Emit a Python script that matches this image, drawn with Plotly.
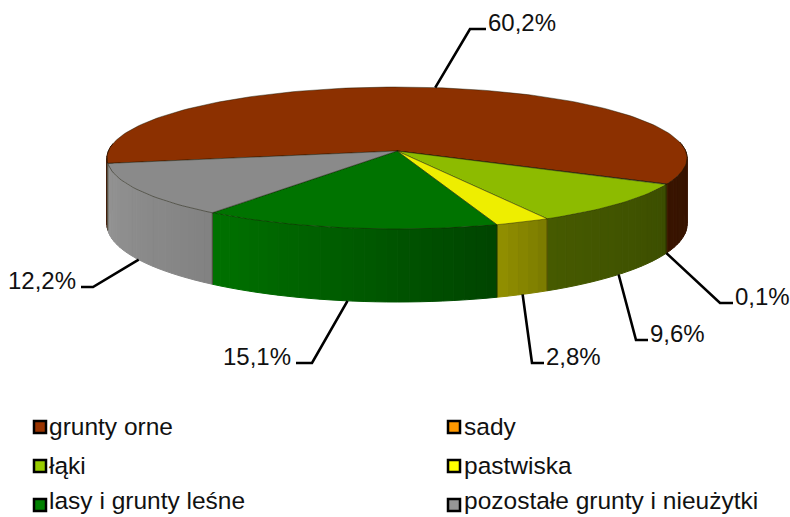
import math
import plotly.graph_objects as go

# ---- data ----
categories = ["grunty orne", "sady", "łąki", "pastwiska", "lasy i grunty leśne", "pozostałe grunty i nieużytki"]
shares = [60.2, 0.1, 9.6, 2.8, 15.1, 12.2]
value_labels = ["60,2%", "0,1%", "9,6%", "2,8%", "15,1%", "12,2%"]
legend_colors = ["#993300", "#FF9900", "#99CC00", "#FFFF00", "#008000", "#969696"]
top_colors = ["#8C3000", "#E89000", "#8DBB00", "#EEEE00", "#007300", "#8A8A8A"]
# wall shading, first value at the clockwise start of the slice, second at its end
wall_start = [(61, 21, 0), (110, 65, 0), (60, 78, 0), (122, 122, 0), (0, 68, 0), (130, 130, 130)]
wall_end = [(56, 20, 0), (120, 70, 0), (70, 90, 0), (146, 144, 0), (0, 114, 0), (148, 148, 148)]

# ---- geometry / layout ----
W, H = 790, 517
CX, CY = 397.0, 151.0
RX, RY, PERSP, DEPTH = 288.6, 70.3, 0.0986, 65.8
START = 260.0
FONT = "Liberation Sans"
VALUE_SIZE = 24
LEGEND_SIZE = 24.5
# elbow and text position of each leader line (x, y, end of the horizontal run)
leader_elbows = [(470, 29, 486), (720, 303, 733), (636, 340, 648), (532, 363, 544), (312, 363, 296), (93, 287, 81)]
leader_on_top = [True, False, False, False, False, False]
legend_cols = [40, 454]
legend_text_cols = [46.5, 462]
legend_rows = [427, 466, 505]
legend_text_rows = [426, 465, 500.5]


def project(theta, drop=0.0):
    t = math.radians(theta)
    u, v = math.sin(t), -math.cos(t)
    w = 1 - PERSP * v
    return CX + RX * u / w, CY + RY * v / w + drop * DEPTH / w


def arc(a, b, drop=0.0, step=1.5):
    n = max(1, int(abs(b - a) / step))
    return [project(a + (b - a) * i / n, drop) for i in range(n + 1)]


def mix(c1, c2, f):
    return "rgb(%d,%d,%d)" % tuple(round(p + (q - p) * f) for p, q in zip(c1, c2))


def poly(points, fill, line, width=1.0):
    return go.Scatter(
        x=[p[0] for p in points] + [points[0][0]],
        y=[p[1] for p in points] + [points[0][1]],
        mode="lines", fill="toself", fillcolor=fill,
        line=dict(color=line, width=width),
        hoverinfo="skip", showlegend=False,
    )


fig = go.Figure()

# slice angle ranges, clockwise from the start angle
total = sum(shares)
bounds = [START]
for s in shares:
    bounds.append(bounds[-1] + s / total * 360)

# side walls: narrow shaded bands, back to front
bands = []
for i in range(len(shares)):
    a, b = bounds[i], bounds[i + 1]
    n = max(1, int((b - a) / 2))
    for k in range(n):
        p, q = a + (b - a) * k / n, a + (b - a) * (k + 1) / n
        mid = math.radians((p + q) / 2)
        if -math.cos(mid) > -0.12:
            bands.append((i, k, p, q, mix(wall_start[i], wall_end[i], (k + 0.5) / n)))
for _, _, p, q, col in bands:
    fig.add_trace(poly(arc(p, q) + arc(q, p, 1.0), col, col, 1.0))

# dark seams between walls
for ang in bounds[1:]:
    if -math.cos(math.radians(ang)) > -0.1:
        pts = [project(ang), project(ang, 1.0)]
        fig.add_trace(go.Scatter(x=[p[0] for p in pts], y=[p[1] for p in pts], mode="lines",
                                 line=dict(color="rgba(30,30,0,0.55)", width=1),
                                 hoverinfo="skip", showlegend=False))

# top faces
for i in range(len(shares)):
    pts = [(CX, CY)] + arc(bounds[i], bounds[i + 1])
    fig.add_trace(poly(pts, top_colors[i], "rgba(20,20,0,0.55)", 0.8))

# leader lines, starting at the middle of each slice's outer edge
for i, (ex, ey, tx) in enumerate(leader_elbows):
    mid = (bounds[i] + bounds[i + 1]) / 2
    sx, sy = project(mid, 0.0 if leader_on_top[i] else 1.0)
    fig.add_trace(go.Scatter(x=[sx, ex, tx], y=[sy, ey, ey], mode="lines",
                             line=dict(color="#000000", width=2.6),
                             hoverinfo="skip", showlegend=False))
    left = tx > ex
    fig.add_annotation(x=tx + (0 if left else -3), y=ey - 7, text=value_labels[i], showarrow=False,
                       xanchor="left" if left else "right", yanchor="middle",
                       font=dict(family=FONT, size=VALUE_SIZE, color="#111111"))

# legend, two columns by three rows
for i, name in enumerate(categories):
    lx = legend_cols[i % 2]
    fig.add_trace(go.Scatter(x=[lx], y=[legend_rows[i // 2]], mode="markers",
                             marker=dict(symbol="square", size=12, color=legend_colors[i],
                                         line=dict(color="#000000", width=2.5)),
                             hoverinfo="skip", showlegend=False))
    fig.add_annotation(x=legend_text_cols[i % 2], y=legend_text_rows[i // 2], text=name, showarrow=False,
                       xanchor="left", yanchor="middle",
                       font=dict(family=FONT, size=LEGEND_SIZE, color="#111111"))

fig.update_layout(
    width=W, height=H, margin=dict(l=0, r=0, t=0, b=0),
    paper_bgcolor="white", plot_bgcolor="white", showlegend=False,
    xaxis=dict(range=[0, W], visible=False, fixedrange=True),
    yaxis=dict(range=[H, 0], visible=False, fixedrange=True),
)
fig.write_html("out.html", config={"displayModeBar": False},
               post_script="document.body.style.margin='0';")
